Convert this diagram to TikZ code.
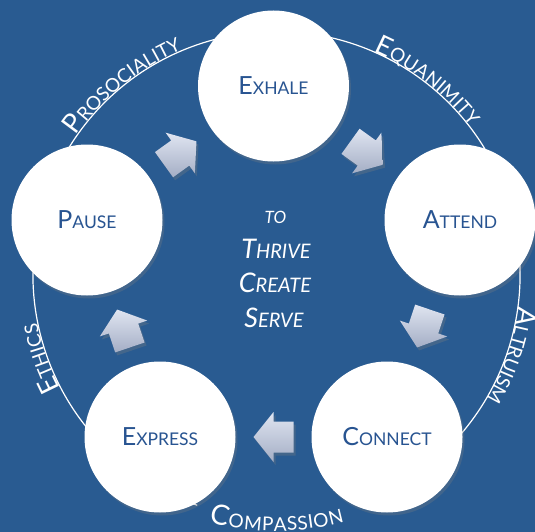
\documentclass[tikz,border=0pt]{standalone}
\usepackage{fontspec}
\setmainfont{Lato}
\usetikzlibrary{calc,shadows,decorations.text}
\definecolor{bg}{RGB}{41,91,145}
\definecolor{lbl}{RGB}{40,84,145}
\definecolor{arrtop}{RGB}{224,229,241}
\definecolor{arrbot}{RGB}{164,174,197}
\newcommand\capsc[2]{{\fontsize{25}{25}\selectfont #1}{\fontsize{17.5}{17.5}\selectfont #2}}
\newcommand\itsc[2]{{\itshape\fontsize{27}{27}\selectfont #1}{\itshape\fontsize{20}{20}\selectfont #2}}
\newcommand\blockarrow[2]{%
  \shade[arrowstyle]
    ($(#1)+(#2:-20)+(#2+90:15.5)$) -- ($(#1)+(#2+90:15.5)$) --
    ($(#1)+(#2+90:25)$) -- ($(#1)+(#2:20)$) -- ($(#1)+(#2-90:25)$) --
    ($(#1)+(#2-90:15.5)$) -- ($(#1)+(#2:-20)+(#2-90:15.5)$) -- cycle;}
\tikzset{
  bubble/.style={circle, fill=white, minimum size=151pt, inner sep=0pt, text=lbl,
    drop shadow={opacity=0.28, shadow xshift=2pt, shadow yshift=-3pt}},
  arrowstyle/.style={top color=arrtop, bottom color=arrbot,
    drop shadow={opacity=0.3, shadow xshift=2pt, shadow yshift=-3pt}},
  arctext/.style={decorate, decoration={text along path, text align=center,
    text color=white, raise=0.5pt, text={#1}}},
  midtext/.style={text=white, anchor=base, inner sep=0pt}
}
\begin{document}
\begin{tikzpicture}[x=1pt, y=1pt]
\useasboundingbox (0,0) rectangle (535,-532);
\fill[bg] (0,0) rectangle (535,-532);
\coordinate (O) at (276.5,-275);
% outer ring (open at the bottom where the label sits)
\draw[white, line width=1.2pt] (O) ++(-71:243.5) arc[start angle=-71, end angle=251, radius=243.5];
% ring labels
\path[arctext={|\fontsize{27}{27}\selectfont|P|\fontsize{19}{19}\selectfont|ROSOCIALITY}]
  (O) ++(154:243.5) arc[start angle=154, end angle=104, radius=243.5];
\path[arctext={|\fontsize{27}{27}\selectfont|E|\fontsize{19}{19}\selectfont|QUANIMITY}]
  (O) ++(76:243.5) arc[start angle=76, end angle=28, radius=243.5];
\path[arctext={|\fontsize{27}{27}\selectfont|A|\fontsize{19}{19}\selectfont|LTRUISM}]
  (O) ++(1:243.5) arc[start angle=1, end angle=-39, radius=243.5];
\path[arctext={|\fontsize{27}{27}\selectfont|E|\fontsize{19}{19}\selectfont|THICS}]
  (O) ++(213:243.5) arc[start angle=213, end angle=186, radius=243.5];
\path[decorate, decoration={text along path, text align=center, text color=white, raise=-12.5pt,
  text={|\fontsize{28}{28}\selectfont|C|\fontsize{19}{19}\selectfont|OMPASSION}}]
  (O) ++(-114:243.5) arc[start angle=-114, end angle=-66, radius=243.5];
% circles
\node[bubble] (ex) at (273.5,-86) {\capsc{E}{XHALE}};
\node[bubble] (at) at (460,-220) {\capsc{A}{TTEND}};
\node[bubble] (co) at (387,-437) {\capsc{C}{ONNECT}};
\node[bubble] (xp) at (160,-437) {\capsc{E}{XPRESS}};
\node[bubble] (pa) at (87,-220) {\capsc{P}{AUSE}};
% arrows
\coordinate (m1) at ($(pa)!0.5!(ex)$);
\coordinate (m2) at ($(ex)!0.5!(at)$);
\coordinate (m3) at ($(at)!0.5!(co)$);
\coordinate (m4) at ($(co)!0.5!(xp)$);
\coordinate (m5) at ($(xp)!0.5!(pa)$);
\blockarrow{m1}{35.7}
\blockarrow{m2}{-35.7}
\blockarrow{m3}{-108.6}
\blockarrow{m4}{180}
\blockarrow{m5}{108.6}
% centre text
\node[midtext] (t1) at (275.5,-223) {\itshape\fontsize{17}{17}\selectfont TO};
\node[midtext] (t2) at (276,-258) {\itsc{T}{HRIVE}};
\node[midtext] (t3) at (275,-292) {\itsc{C}{REATE}};
\node[midtext] (t4) at (274,-327) {\itsc{S}{ERVE}};
\end{tikzpicture}
\end{document}
